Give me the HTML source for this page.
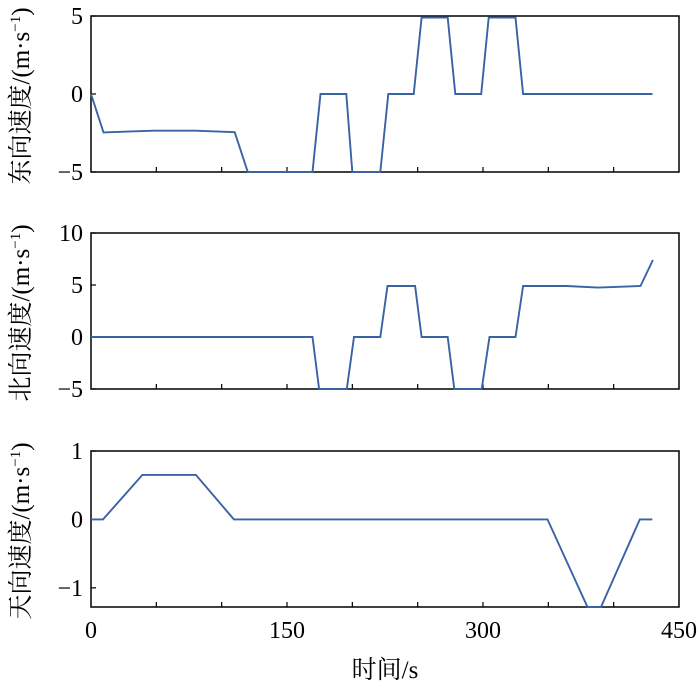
<!DOCTYPE html>
<html><head><meta charset="utf-8"><style>
html,body{margin:0;padding:0;background:#fff;}
svg{display:block;font-family:"Liberation Serif","Noto Serif CJK SC",serif;}
</style></head><body>
<svg id="chart" width="700" height="685"></svg>
<script>
const xTicks=[0,150,300,450];
const eastT=[0,9.6,48,80,110,120,169.5,175.6,195.4,200,221.4,227.5,247,253,273,278.8,298.6,304.4,324.9,330.7,429.7];
const eastV=[0,-2.46,-2.35,-2.35,-2.45,-5,-5,0,0,-5,-5,0,0,4.9,4.9,0,0,4.9,4.9,0,0];
const northT=[0,169.5,174.6,195.8,201.3,221.4,226.9,248,253,273,278,299,305,324.9,330.7,364,388,420.5,430];
const northV=[0,0,-5,-5,0,0,4.9,4.9,0,0,-5,-5,0,0,4.9,4.9,4.75,4.9,7.4];
const upT=[0,9.2,39.3,80.3,109.4,349.4,380,390.3,420,429.6];
const upV=[0,0,0.65,0.65,0,0,-1.28,-1.28,0,0];
const eastTicks=[5,0,-5], northTicks=[10,5,0,-5], upTicks=[1,0,-1];
const NS="http://www.w3.org/2000/svg";
const svg=document.getElementById('chart');
const X0=91,X1=679;
function sx(t){return X0+(t/450)*(X1-X0);}
function mk(tag,attrs,parent){const e=document.createElementNS(NS,tag);for(const k in attrs)e.setAttribute(k,attrs[k]);(parent||svg).appendChild(e);return e;}
const panels=[
 {name:'east',top:16,bot:172,min:-5,max:5,T:eastT,V:eastV,ticks:eastTicks,label:'东向速度/(m·s',cy:96},
 {name:'north',top:233,bot:389,min:-5,max:10,T:northT,V:northV,ticks:northTicks,label:'北向速度/(m·s',cy:313},
 {name:'up',top:451,bot:607,min:-1.28,max:1,T:upT,V:upV,ticks:upTicks,label:'天向速度/(m·s',cy:531}
];
panels.forEach(p=>{
 const g=mk('g',{});
 
 
 const sy=v=>p.bot-(v-p.min)/(p.max-p.min)*(p.bot-p.top);
 const fr=mk('rect',{x:X0,y:p.top,width:X1-X0,height:p.bot-p.top,fill:'none',stroke:'#000','stroke-width':1.5},g);
 
 
 for(let t=50;t<450;t+=50){
  const tk=mk('line',{x1:sx(t),x2:sx(t),y1:p.bot,y2:p.bot-5,stroke:'#000','stroke-width':1.2},g);
  
  
 }
 p.ticks.forEach(v=>{
  const y=sy(v);
  const tk=mk('line',{x1:X0,x2:X0+5,y1:y,y2:y,stroke:'#000','stroke-width':1.2},g);
  
  
  const tx=mk('text',{x:X0-8,y:y+8,'text-anchor':'end','font-size':24},g);
  tx.textContent=(v<0?'\u2212'+(-v):String(v));
  
  
 });
 const d=p.T.map((t,i)=>(i?'L':'M')+sx(t).toFixed(1)+','+sy(p.V[i]).toFixed(1)).join(' ');
 const ln=mk('path',{d:d,fill:'none',stroke:'#3a63a5','stroke-width':1.9},g);
 
 
 const lb=mk('text',{x:0,y:0,'text-anchor':'middle','font-size':25,transform:'translate(29,'+p.cy+') rotate(-90)'},g);
 lb.textContent=p.label;
 const sup=mk('tspan',{'font-size':15,dy:-9},lb);sup.textContent='\u22121';
 const cl=mk('tspan',{dy:9},lb);cl.textContent=')';
 
 
});
xTicks.forEach(t=>{
 const tx=mk('text',{x:sx(t),y:638,'text-anchor':'middle','font-size':24});
 tx.textContent=String(t);
 
 
});
const xt=mk('text',{x:385,y:678,'text-anchor':'middle','font-size':25});
xt.textContent='时间/s';


</script>
</body></html>
